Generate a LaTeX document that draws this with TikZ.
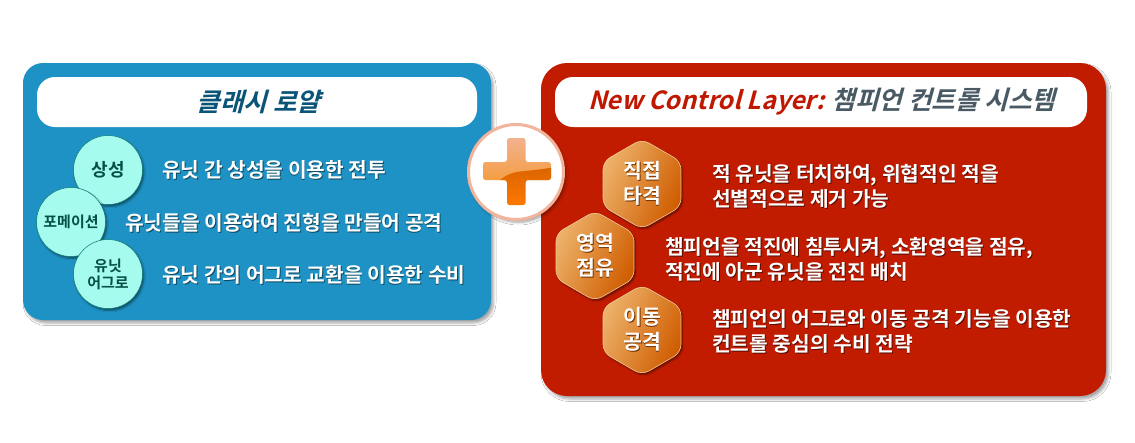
\documentclass[tikz,border=0pt]{standalone}
\usepackage{fontspec}
\setmainfont{Noto Sans CJK KR}[BoldFont={Noto Sans CJK KR Bold}]
\usetikzlibrary{shapes.geometric,shadows,shadows.blur}
\definecolor{bluepanel}{HTML}{1E92C4}
\definecolor{redpanel}{HTML}{C21C00}
\definecolor{mint}{HTML}{A5FBEE}
\definecolor{mintedge}{HTML}{0B7A6E}
\definecolor{mintink}{HTML}{064F44}
\definecolor{blueink}{HTML}{0A5478}
\definecolor{redink}{HTML}{C01800}
\definecolor{slateink}{HTML}{4A5A64}
\definecolor{HexL}{HTML}{EDB26A}
\definecolor{HexM}{HTML}{E08222}
\definecolor{HexR}{HTML}{CF5C00}
\definecolor{ringc}{HTML}{F2B49A}
\colorlet{shadowink}{black!55}
\newcommand{\shtxt}[1]{\leavevmode\rlap{\kern.9pt\raisebox{-.9pt}{\textcolor{shadowink}{#1}}}#1}
\tikzset{
 x=1pt,y=-1pt,
 softshadow/.style={blur shadow={shadow xshift=2.5pt,shadow yshift=-3pt,shadow blur radius=2.5pt,shadow opacity=35}},
 panelbox/.style={inner sep=0pt,softshadow},
 titlebar/.style={fill=white,rounded corners=18pt,inner sep=0pt,minimum height=50pt},
 bubble/.style={circle,fill=mint,draw=mintedge,line width=.5pt,minimum size=69pt,inner sep=0pt,font=\bfseries\fontsize{15}{17}\selectfont,text=mintink,align=center,
   blur shadow={shadow xshift=1.5pt,shadow yshift=-2pt,shadow blur radius=1.5pt,shadow opacity=45}},
 hexa/.style={regular polygon,regular polygon sides=6,shape border rotate=30,minimum size=90pt,inner sep=0pt,rounded corners=8pt,
   draw=HexL!70,line width=.6pt,
   left color=HexL,middle color=HexM,right color=HexR,shading angle=65,text=white,font=\bfseries\fontsize{20.5}{25}\selectfont,align=center,
   blur shadow={shadow xshift=1.5pt,shadow yshift=-2pt,shadow blur radius=1.5pt,shadow opacity=45}},
 bodytxt/.style={anchor=west,inner sep=0pt,text=white,align=left,font=\bfseries\fontsize{20.3}{25}\selectfont},
 headtxt/.style={inner sep=0pt,font=\bfseries\fontsize{25}{30}\selectfont},
}
\begin{document}
\begin{tikzpicture}
\useasboundingbox (0,0) rectangle (1135,442);
\fill[white] (0,0) rectangle (1135,442);
% panels
\node[panelbox,rounded corners=20pt,fill=bluepanel,minimum width=468pt,minimum height=257pt] (leftpanel) at (257,191.5) {};
\node[panelbox,rounded corners=26pt,fill=redpanel,minimum width=565pt,minimum height=333pt] (rightpanel) at (823.5,229.5) {};
\node[titlebar,minimum width=440pt] (lefttitle) at (257,102) {};
\node[titlebar,minimum width=532pt] (righttitle) at (821,102) {};
\node[headtxt,text=blueink,xslant=.27,font=\bfseries\fontsize{25.5}{30}\selectfont] (lefthead) at (261,102) {클래시 로얄};
\node[headtxt,text=redink,xslant=.27,anchor=west] (righthead) at (590,102) {New Control Layer: \textcolor{slateink}{\fontsize{25.6}{30}\selectfont 챔피언 컨트롤 시스템}};
% left
\node[bubble,font=\bfseries\fontsize{18}{20}\selectfont] (b1) at (108,170) {상성};
\node[bubble] (b2) at (71,222) {포메이션};
\node[bubble] (b3) at (108,274) {유닛\\어그로};
\colorlet{shadowink}{black!50!bluepanel}
\node[bodytxt] (t1) at (162,170) {\shtxt{유닛 간 상성을 이용한 전투}};
\node[bodytxt] (t2) at (125,223) {\shtxt{유닛들을 이용하여 진형을 만들어 공격}};
\node[bodytxt] (t3) at (162,275) {\shtxt{유닛 간의 어그로 교환을 이용한 수비}};
% right
\colorlet{shadowink}{black!45!HexR}
\node[hexa] (h1) at (642,184) {\shtxt{직접}\\\shtxt{타격}};
\node[hexa] (h2) at (595,256) {\shtxt{영역}\\\shtxt{점유}};
\node[hexa] (h3) at (642,330) {\shtxt{이동}\\\shtxt{공격}};
\colorlet{shadowink}{black!55!redpanel}
\node[bodytxt] (r1) at (712,186.5) {\shtxt{적 유닛을 터치하여, 위협적인 적을}\\\shtxt{선별적으로 제거 가능}};
\node[bodytxt] (r2) at (665,259.5) {\shtxt{챔피언을 적진에 침투시켜, 소환영역을 점유,}\\\shtxt{적진에 아군 유닛을 전진 배치}};
\node[bodytxt] (r3) at (712,332) {\shtxt{챔피언의 어그로와 이동 공격 기능을 이용한}\\\shtxt{컨트롤 중심의 수비 전략}};
% plus
\node[circle,fill=white,draw=ringc,line width=3pt,minimum size=95pt,inner sep=0pt,softshadow] (plusring) at (516,172) {};
\begin{scope}
\clip[rounded corners=2.5pt] (507,138) -- (525.5,138) -- (525.5,162) -- (551,162) -- (551,180) -- (525.5,180) -- (525.5,205) -- (507,205) -- (507,180) -- (483,180) -- (483,162) -- (507,162) -- cycle;
\shade[top color=ringc!95!orange,bottom color=HexL!60!orange] (480,136) rectangle (554,182);
\shade[top color=HexR!75!orange,bottom color=orange!95!red] (500,180) .. controls (506,175) and (512,172) .. (525,171) .. controls (535,170) and (545,169) .. (554,167) -- (554,207) -- (500,207) -- cycle;
\end{scope}
\end{tikzpicture}
\end{document}
